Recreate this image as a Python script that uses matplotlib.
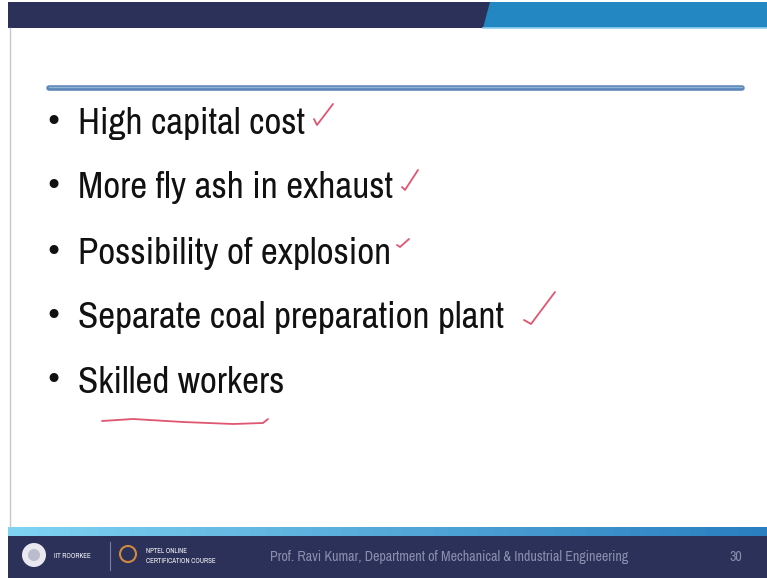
import matplotlib
matplotlib.use("Agg")
import matplotlib.pyplot as plt
from matplotlib import font_manager
from matplotlib.patches import Polygon, Rectangle, Circle
import numpy as np

# slide content
bullets = ["High capital cost", "More fly ash in exhaust", "Possibility of explosion",
           "Separate coal preparation plant", "Skilled workers"]
baselines = [134, 198, 264, 328, 393]

# red pen annotations (pixel coords on the slide)
ticks = [
    ([314, 317, 333], [119, 125, 104]),
    ([402, 405, 418], [187, 190, 170]),
    ([397, 400, 409], [245, 247, 239]),
    ([524, 531, 555], [320, 324, 292]),
]
underline_x = [102, 133, 183, 233, 263, 268]
underline_y = [421, 419, 422, 424, 423, 419]

footer_text = "Prof. Ravi Kumar, Department of Mechanical & Industrial Engineering"
page_no = "30"

names = sorted({f.name for f in font_manager.fontManager.ttflist})
narrow = [n for n in names if "Narrow" in n or "Condensed" in n]
font = narrow[0] if narrow else "Lato"

W, H = 767, 578
fig = plt.figure(figsize=(W / 100, H / 100), dpi=100)
ax = fig.add_axes([0, 0, 1, 1])
ax.set_xlim(0, W)
ax.set_ylim(H, 0)
ax.axis("off")

navy = "#2b3159"
blue = "#2387c2"

# top banner
ax.add_patch(Rectangle((8, 2), W, 26, color=navy, lw=0))
ax.add_patch(Polygon([(490, 2), (W, 2), (W, 28), (483, 28)], closed=True, color=blue, lw=0))
ax.plot([483, W], [28, 28], color="#8fd0ee", lw=1.2)

# left border
ax.plot([10, 10], [28, 527], color="#c8c8c8", lw=1)

# title rule
ax.plot([49, 742], [88, 88], color="#5a86b8", lw=4, solid_capstyle="round")
ax.plot([49, 742], [87, 87], color="#8fb3d8", lw=1)

# bullets, sized so the lines together span what they do on the slide
probe = [ax.text(0, 0, b, fontsize=30, family=font) for b in bullets]
fig.canvas.draw()
wsum = sum(p.get_window_extent().width for p in probe)
for p in probe:
    p.remove()
fs = 30 * 1488 / wsum

for txt, yb in zip(bullets, baselines):
    ax.text(53, yb - 12, "\u2022", fontsize=22, family="DejaVu Sans", color="#111111",
            ha="center", va="center")
    ax.text(78, yb, txt, fontsize=fs, family=font, color="#111111", va="baseline")

pen = "#e05570"
for xs, ys in ticks:
    ax.plot(xs, ys, color=pen, lw=1.3, solid_capstyle="round", solid_joinstyle="round")
ax.plot(underline_x, underline_y, color=pen, lw=1.3, solid_capstyle="round")

# footer
grad = np.linspace(0, 1, 50).reshape(1, -1)
ax.imshow(np.vstack([grad] * 2), extent=(8, W, 536, 527), aspect="auto",
          cmap=matplotlib.colors.LinearSegmentedColormap.from_list("g", ["#7fd3f2", "#2a7fc0"]))
ax.add_patch(Rectangle((8, 536), W, H - 536, color=navy, lw=0))
ax.set_xlim(0, W)
ax.set_ylim(H, 0)

ax.add_patch(Circle((34, 555), 12, color="#e8e8ee", lw=0))
ax.add_patch(Circle((34, 555), 6, color="#b8bccc", lw=0))
ax.text(54, 556, "IIT ROORKEE", fontsize=5, family=font, color="white",
        weight="bold", va="center")
ax.plot([110, 110], [542, 570], color="#7a7fa0", lw=0.8)
ax.add_patch(Circle((128, 554), 8, fill=False, ec="#d08a40", lw=1.5))
ax.text(146, 551, "NPTEL ONLINE", fontsize=5, family=font, color="white",
        weight="bold", va="center")
ax.text(146, 561, "CERTIFICATION COURSE", fontsize=5, family=font, color="white",
        weight="bold", va="center")
probe = ax.text(270, 557, footer_text, fontsize=10, family=font, color="#8b8fae", va="center")
fig.canvas.draw()
probe.set_fontsize(10 * 358 / probe.get_window_extent().width)
ax.text(730, 557, page_no, fontsize=probe.get_fontsize(), family=font, color="#8b8fae",
        va="center")

fig.savefig("out.png", dpi=100)
